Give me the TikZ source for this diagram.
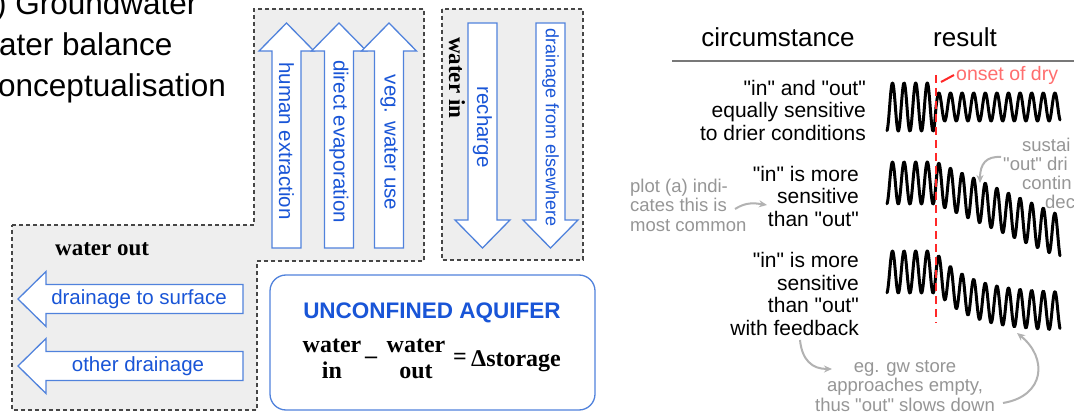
\documentclass[tikz,border=0pt]{standalone}
\usepackage{fontspec}
\setmainfont{Liberation Sans}
\newfontfamily\lsans{Liberation Sans}
\newfontfamily\serifbold{Liberation Serif}
\usetikzlibrary{arrows.meta}
\definecolor{boxgray}{RGB}{238,238,238}
\definecolor{dashgray}{RGB}{70,70,70}
\definecolor{arrblue}{RGB}{80,130,220}
\definecolor{txtblue}{RGB}{25,85,215}
\definecolor{annogray}{RGB}{150,150,150}
\definecolor{arrgray}{RGB}{178,178,178}
\definecolor{onsetred}{RGB}{255,40,40}
\definecolor{onsettxt}{RGB}{255,110,110}
\definecolor{hlgray}{RGB}{120,120,120}
\tikzset{
  dbox/.style={draw=dashgray, fill=boxgray, dash pattern=on 4pt off 3pt, line width=1.1pt},
  blueshape/.style={draw=arrblue, fill=white, line width=1.3pt, line join=miter},
  fatarrow/.pic={\draw[blueshape] (0,0) -- (27.5,28) -- (14.5,28) -- (14.5,225) -- (-14.5,225) -- (-14.5,28) -- (-27.5,28) -- cycle;},
  bluetxt/.style={text=txtblue, inner sep=0pt, font=\lsans\fontsize{20.5pt}{24pt}\selectfont},
  smallblue/.style={text=txtblue, inner sep=0pt, font=\lsans\fontsize{18pt}{22pt}\selectfont},
  serifhead/.style={inner sep=0pt, font=\serifbold\bfseries\fontsize{23pt}{26pt}\selectfont},
  eqtxt/.style={inner sep=0pt, font=\serifbold\bfseries\fontsize{24pt}{26pt}\selectfont},
  titletxt/.style={inner sep=0pt, font=\lsans\fontsize{31.5pt}{37pt}\selectfont},
  hdr/.style={inner sep=0pt, font=\lsans\fontsize{26pt}{30pt}\selectfont},
  rowtxt/.style={inner sep=0pt, align=right, font=\lsans\fontsize{21pt}{22.5pt}\selectfont},
  annotxt/.style={inner sep=0pt, text=annogray, font=\lsans\fontsize{18.5pt}{19.5pt}\selectfont},
  grayarr/.style={draw=arrgray, line width=2pt, -{Stealth[length=8pt,width=7pt]}},
  wave/.style={line width=3pt, line join=round, line cap=round},
  reddash/.style={draw=onsetred, line width=2.5pt, dash pattern=on 8pt off 5pt}
}
\begin{document}
\lsans
\begin{tikzpicture}[x=1pt,y=-1pt]
\useasboundingbox (0,0) rectangle (1074,414);
\fill[white] (0,0) rectangle (1074,414);

% ---------- title ----------
\node[titletxt, anchor=base west] (t1) at (-4,15) {) Groundwater};
\node[titletxt, anchor=base west] (t2) at (-1,56) {ater balance};
\node[titletxt, anchor=base west] (t3) at (-2,97) {onceptualisation};

% ---------- gray dashed boxes ----------
\draw[dbox] (12,225) -- (254,225) -- (254,9) -- (424,9) -- (424,261) -- (257,261) -- (257,410) -- (12,410) -- cycle;
\draw[dbox] (442,9) rectangle (583,260);

% ---------- up arrows (water leaving) ----------
\pic at (286.5,23) {fatarrow};
\pic at (339,23) {fatarrow};
\pic at (389,23) {fatarrow};
\node[bluetxt, rotate=-90] (hx) at (286.5,141) {human extraction};
\node[bluetxt, rotate=-90] (de) at (339,141.5) {direct evaporation};
\node[bluetxt, rotate=-90] (vw) at (389,142.5) {veg. water use};

% ---------- down arrows (water in) ----------
\pic[rotate=180] at (482.5,248) {fatarrow};
\pic[rotate=180] at (550.5,248) {fatarrow};
\node[bluetxt, rotate=-90] (rc) at (482.5,127) {recharge};
\node[smallblue, rotate=-90] (dfe) at (550.5,128) {drainage from elsewhere};
\node[serifhead, rotate=-90, anchor=west] (win) at (457,37) {water in};

% ---------- left arrows (water out) ----------
\pic[rotate=90] at (18,299) {fatarrow};
\pic[rotate=90] at (18,366) {fatarrow};
\node[bluetxt] (dts) at (139,299) {drainage to surface};
\node[bluetxt] (od) at (138,366) {other drainage};
\node[serifhead, anchor=west] (wout) at (55,249) {water out};

% ---------- aquifer box ----------
\node[draw=arrblue, fill=white, line width=1.3pt, rounded corners=16pt,
      minimum width=325pt, minimum height=135pt] (aquifer) at (432.5,342.5) {};
\node[inner sep=0pt, text=txtblue, font=\lsans\bfseries\fontsize{22.5pt}{26pt}\selectfont] (uncon) at (432,313) {UNCONFINED AQUIFER};
\node[eqtxt, anchor=base] (w1) at (332,352) {water};
\node[eqtxt, anchor=base] (in1) at (332,378) {in};
\node[eqtxt] (minus) at (371,360) {–};
\node[eqtxt, anchor=base] (w2) at (416,352) {water};
\node[eqtxt, anchor=base] (out2) at (416,378) {out};
\node[eqtxt] (equals) at (460,359) {=};
\node[eqtxt, anchor=base west] (dstor) at (471,366) {Δstorage};

% ---------- right panel ----------
\node[hdr] (circ) at (778,37) {circumstance};
\node[hdr] (res) at (965,37) {result};
\coordinate (hl1) at (672,61);
\coordinate (hl2) at (1074,61);
\draw[hlgray, line width=1.6pt] (hl1) -- (hl2);

\node[rowtxt, anchor=east] (row1) at (866,110) {"in" and "out"\\equally sensitive\\to drier conditions};
\node[rowtxt, anchor=east] (row2) at (859,196) {"in" is more\\sensitive\\than "out"};
\node[rowtxt, anchor=east] (row3) at (859,294) {"in" is more\\sensitive\\than "out"\\with feedback};

% waves
\draw[wave] plot[domain=887:1060, samples=520] (\x, {107 - (\x<936 ? 24 : 14)*sin((\x-936)*31.03)});
\draw[wave] plot[domain=887:1060, samples=520] (\x, {183 + (\x>936 ? 0.43*(\x-936) : 0) - 21*sin((\x-936)*31.03)});
\draw[wave] plot[domain=887:1060, samples=520] (\x, {272 + (\x>936 ? 40*(1-exp(-(\x-936)/35)) : 0) - (\x<936 ? 21 : 19)*sin((\x-936)*31.03)});

% onset line
\coordinate (onsetTop) at (936,75);
\coordinate (onsetBot) at (936,323);
\draw[reddash] (onsetTop) -- (onsetBot);
\node[inner sep=0pt, text=onsettxt, anchor=west, font=\lsans\fontsize{19.5pt}{22pt}\selectfont] (onset) at (956,75) {onset of dry};
\coordinate (leadS) at (941,82);
\draw[onsetred, line width=2pt] (leadS) -- ([xshift=-2pt]onset.west);

% annotations
\node[annotxt, align=left, anchor=west] (plotA) at (630,205) {plot (a) indi-\\cates this is\\most common};
\coordinate (pa1) at (735,209);
\coordinate (pa2) at (767,205);
\draw[grayarr] (pa1) .. controls (746,202) and (754,203) .. (pa2);

\node[annotxt, align=center] (gw) at (905,386) {eg. gw store\\approaches empty,\\thus "out" slows down};
\coordinate (g1) at (800,340);
\coordinate (g2) at (832,369);
\draw[grayarr] (g1) .. controls (802,360) and (812,369) .. (g2);
\coordinate (g3) at (1003,403);
\coordinate (g4) at (1017,333);
\draw[grayarr] (g3) .. controls (1045,396) and (1048,358) .. (g4);

\node[annotxt, anchor=west] (sus1) at (1022,145) {sustai};
\node[annotxt, anchor=west] (sus2) at (1003,164) {"out" dri};
\node[annotxt, anchor=west] (sus3) at (1022,183) {contin};
\node[annotxt, anchor=west] (sus4) at (1045,202) {dec};
\coordinate (s1) at (1001,157);
\coordinate (s2) at (980,183);
\draw[grayarr] (s1) .. controls (986,156) and (980,164) .. (s2);
\end{tikzpicture}
\end{document}
